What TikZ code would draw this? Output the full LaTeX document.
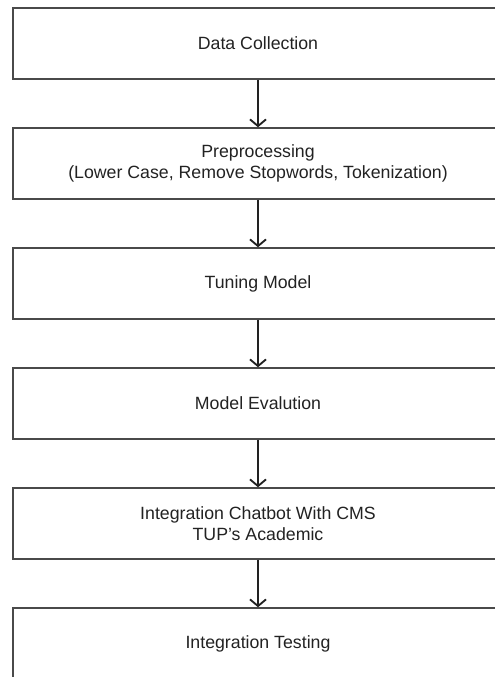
\documentclass[tikz,border=0pt]{standalone}
\usepackage{fontspec}
\setmainfont{Liberation Sans}
\usepackage{tikz}
\usetikzlibrary{positioning}
\usetikzlibrary{arrows.meta}
\definecolor{boxline}{HTML}{4A4A4A}
\definecolor{txt}{HTML}{222222}
\tikzset{
  stage/.style={draw=boxline, line width=1.1pt, minimum width=367.5pt, minimum height=53.25pt,
    align=center, font=\fontsize{13.3}{15.75}\selectfont, text=txt, inner sep=0pt},
  flow/.style={draw=txt, line width=1.4pt, -{Straight Barb[length=5pt,width=12pt,line width=1.4pt]}}
}

\begin{document}
\begin{tikzpicture}[x=0.75pt,y=-0.75pt, node distance=35.65pt]
\useasboundingbox (0,0) rectangle (495,677);
\node[stage] (collect) at (258,43.5) {Data Collection};
\node[stage, below=of collect] (prep) {Preprocessing\\(Lower Case, Remove Stopwords, Tokenization)};
\node[stage, below=of prep] (tune) {Tuning Model};
\node[stage, below=of tune] (eval) {Model Evalution};
\node[stage, below=of eval] (integ) {Integration Chatbot With CMS\\TUP’s Academic};
\node[stage, below=of integ] (test) {Integration Testing};
%arrows between stages
\draw[flow] (collect) -- (prep);
\draw[flow] (prep) -- (tune);
\draw[flow] (tune) -- (eval);
\draw[flow] (eval) -- (integ);
\draw[flow] (integ) -- (test);
\end{tikzpicture}
\end{document}
